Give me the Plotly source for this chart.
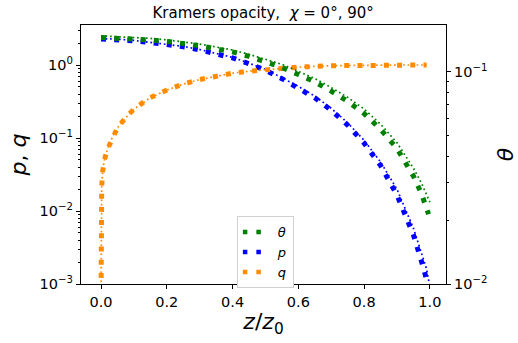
import plotly.graph_objects as go

# ---------------- data ----------------
x_theta0 = [0.0, 0.05, 0.1, 0.15, 0.2, 0.25, 0.3, 0.35, 0.4, 0.45, 0.5, 0.55, 0.6, 0.65,
            0.7, 0.75, 0.8, 0.85, 0.9, 0.95, 0.975, 0.996]
theta_chi0 = [0.145, 0.144, 0.143, 0.141, 0.139, 0.136, 0.1325, 0.128, 0.124, 0.118, 0.111,
              0.1048, 0.097, 0.0895, 0.081, 0.0725, 0.0635, 0.0535, 0.0435, 0.0322, 0.0265, 0.0213]

x_theta90 = [0.0, 0.05, 0.1, 0.15, 0.2, 0.25, 0.3, 0.35, 0.4, 0.45, 0.5, 0.55, 0.6, 0.65,
             0.7, 0.75, 0.8, 0.85, 0.9, 0.95, 0.975, 1.0]
theta_chi90 = [0.1475, 0.1465, 0.1455, 0.1435, 0.1413, 0.1385, 0.135, 0.1307, 0.1265, 0.1208,
               0.1143, 0.1083, 0.1004, 0.0929, 0.0842, 0.0757, 0.0667, 0.0566, 0.0463, 0.0351,
               0.0297, 0.0243]

x_p0 = [0.0, 0.05, 0.1, 0.15, 0.2, 0.25, 0.3, 0.35, 0.4, 0.45, 0.5, 0.55, 0.6, 0.65, 0.7,
        0.75, 0.8, 0.85, 0.9, 0.95, 0.975, 0.99]
p_chi0 = [2.27, 2.24, 2.15, 2.03, 1.92, 1.78, 1.61, 1.43, 1.25, 1.04, 0.85, 0.65, 0.49, 0.355,
          0.24, 0.15, 0.085, 0.042, 0.0165, 0.0047, 0.0020, 0.00115]

x_p90 = [0.0, 0.05, 0.1, 0.15, 0.2, 0.25, 0.3, 0.35, 0.4, 0.45, 0.5, 0.55, 0.6, 0.65, 0.7,
         0.75, 0.8, 0.85, 0.9, 0.95, 0.975, 0.99, 1.0]
p_chi90 = [2.29, 2.26, 2.17, 2.05, 1.94, 1.80, 1.63, 1.45, 1.27, 1.06, 0.87, 0.67, 0.51, 0.375,
           0.255, 0.161, 0.093, 0.047, 0.0198, 0.0058, 0.0027, 0.0016, 0.0009]

x_q = [0.000003, 0.00001, 0.0001, 0.0005, 0.002, 0.005, 0.01, 0.02, 0.035, 0.05, 0.075, 0.1,
       0.125, 0.15, 0.2, 0.25, 0.3, 0.35, 0.4, 0.45, 0.5, 0.6, 0.7, 0.8, 0.9, 0.99]
q_chi0 = [0.0008, 0.00158, 0.005, 0.011, 0.022, 0.035, 0.05, 0.071, 0.104, 0.138, 0.19, 0.248,
          0.30, 0.357, 0.453, 0.548, 0.632, 0.703, 0.772, 0.822, 0.862, 0.935, 0.978, 0.995,
          1.0, 1.0]
q_chi90 = [0.0008, 0.00158, 0.005, 0.011, 0.022, 0.035, 0.05, 0.071, 0.104, 0.138, 0.19, 0.248,
           0.30, 0.357, 0.453, 0.548, 0.632, 0.703, 0.772, 0.822, 0.862, 0.935, 0.978, 0.995,
           1.0, 1.0]

x_ticks = [0.0, 0.2, 0.4, 0.6, 0.8, 1.0]
x_ticklabels = ["0.0", "0.2", "0.4", "0.6", "0.8", "1.0"]
left_ticks = [1e-3, 1e-2, 1e-1, 1e0]
left_ticklabels = ["10<sup>−3</sup>", "10<sup>−2</sup>", "10<sup>−1</sup>", "10<sup>0</sup>"]
right_ticks = [1e-2, 1e-1]
right_ticklabels = ["10<sup>−2</sup>", "10<sup>−1</sup>"]

legend_names = ["<i>θ</i>", "<i>p</i>", "<i>q</i>"]

# ---------------- style ----------------
GREEN = "#008000"
BLUE = "#0000ff"
ORANGE = "#ff8c00"
FONT = "DejaVu Sans"
THICK = dict(width=5, dash="5px,8.2px")
THIN = dict(width=1.7, dash="1.7px,2.8px")

fig = go.Figure()

# left axis traces (p, q)
fig.add_trace(go.Scatter(x=x_p0, y=p_chi0, mode="lines", showlegend=False,
                         line=dict(color=BLUE, **THICK)))
fig.add_trace(go.Scatter(x=x_p90, y=p_chi90, mode="lines", showlegend=False,
                         line=dict(color=BLUE, **THIN)))
fig.add_trace(go.Scatter(x=x_q, y=q_chi0, mode="lines", showlegend=False,
                         line=dict(color=ORANGE, **THICK)))
fig.add_trace(go.Scatter(x=x_q, y=q_chi90, mode="lines", showlegend=False,
                         line=dict(color=ORANGE, **THIN)))

# right axis traces (theta)
fig.add_trace(go.Scatter(x=x_theta0, y=theta_chi0, mode="lines", showlegend=False,
                         yaxis="y2", line=dict(color=GREEN, **THICK)))
fig.add_trace(go.Scatter(x=x_theta90, y=theta_chi90, mode="lines", showlegend=False,
                         yaxis="y2", line=dict(color=GREEN, **THIN)))

# legend entries
for name, col in zip(legend_names, [GREEN, BLUE, ORANGE]):
    fig.add_trace(go.Scatter(x=[None], y=[None], mode="lines", name=name,
                             line=dict(color=col, width=4.5, dash="4.5px,9px,4.5px,60px")))

minor_left = [m * 10 ** e for e in range(-3, 1) for m in range(2, 10) if m * 10 ** e < 3.6]
minor_right = [m * 10 ** e for e in range(-2, 0) for m in range(2, 10) if m * 10 ** e < 0.166]

axis_common = dict(showline=True, linecolor="black", linewidth=1.2, ticks="outside",
                   ticklen=4, tickwidth=1, tickcolor="black", showgrid=False, zeroline=False,
                   automargin=False,
                   tickfont=dict(family=FONT, size=14.5, color="black"))

fig.update_layout(
    width=518, height=343,
    margin=dict(l=81, r=72, t=25, b=59, autoexpand=False),
    paper_bgcolor="white", plot_bgcolor="white",
    title=dict(text="Kramers opacity,  <i>χ</i> = 0°, 90°", x=0.508, xanchor="center",
               y=0.962, yanchor="middle", font=dict(family=FONT, size=15, color="black")),
    xaxis=dict(range=[-0.061, 1.049], tickvals=x_ticks, ticktext=x_ticklabels, mirror=True,
               title=dict(text="<i>z</i>/<i>z</i><sub>0</sub>", standoff=4,
                          font=dict(family=FONT, size=22, color="black")),
               **axis_common),
    yaxis=dict(type="log", range=[-3, 0.548], tickvals=left_ticks, ticktext=left_ticklabels,
               minor=dict(tickvals=minor_left, ticks="outside", ticklen=2, tickcolor="black"),
               title=dict(text="<i>p</i>, <i>q</i>", standoff=6,
                          font=dict(family=FONT, size=22, color="black")),
               **axis_common),
    yaxis2=dict(type="log", range=[-2, -0.78], overlaying="y", side="right",
                tickvals=right_ticks, ticktext=right_ticklabels,
                minor=dict(tickvals=minor_right, ticks="outside", ticklen=2, tickcolor="black"),
                title=dict(text="<i>θ</i>", standoff=14,
                           font=dict(family=FONT, size=22, color="black")),
                **axis_common),
    legend=dict(x=0.427, y=0.262, xanchor="left", yanchor="top", bgcolor="white",
                bordercolor="#d0d0d0", borderwidth=1, itemwidth=30, tracegroupgap=0,
                font=dict(family=FONT, size=13, color="black")),
    showlegend=True,
)

fig.write_html("out.html")
